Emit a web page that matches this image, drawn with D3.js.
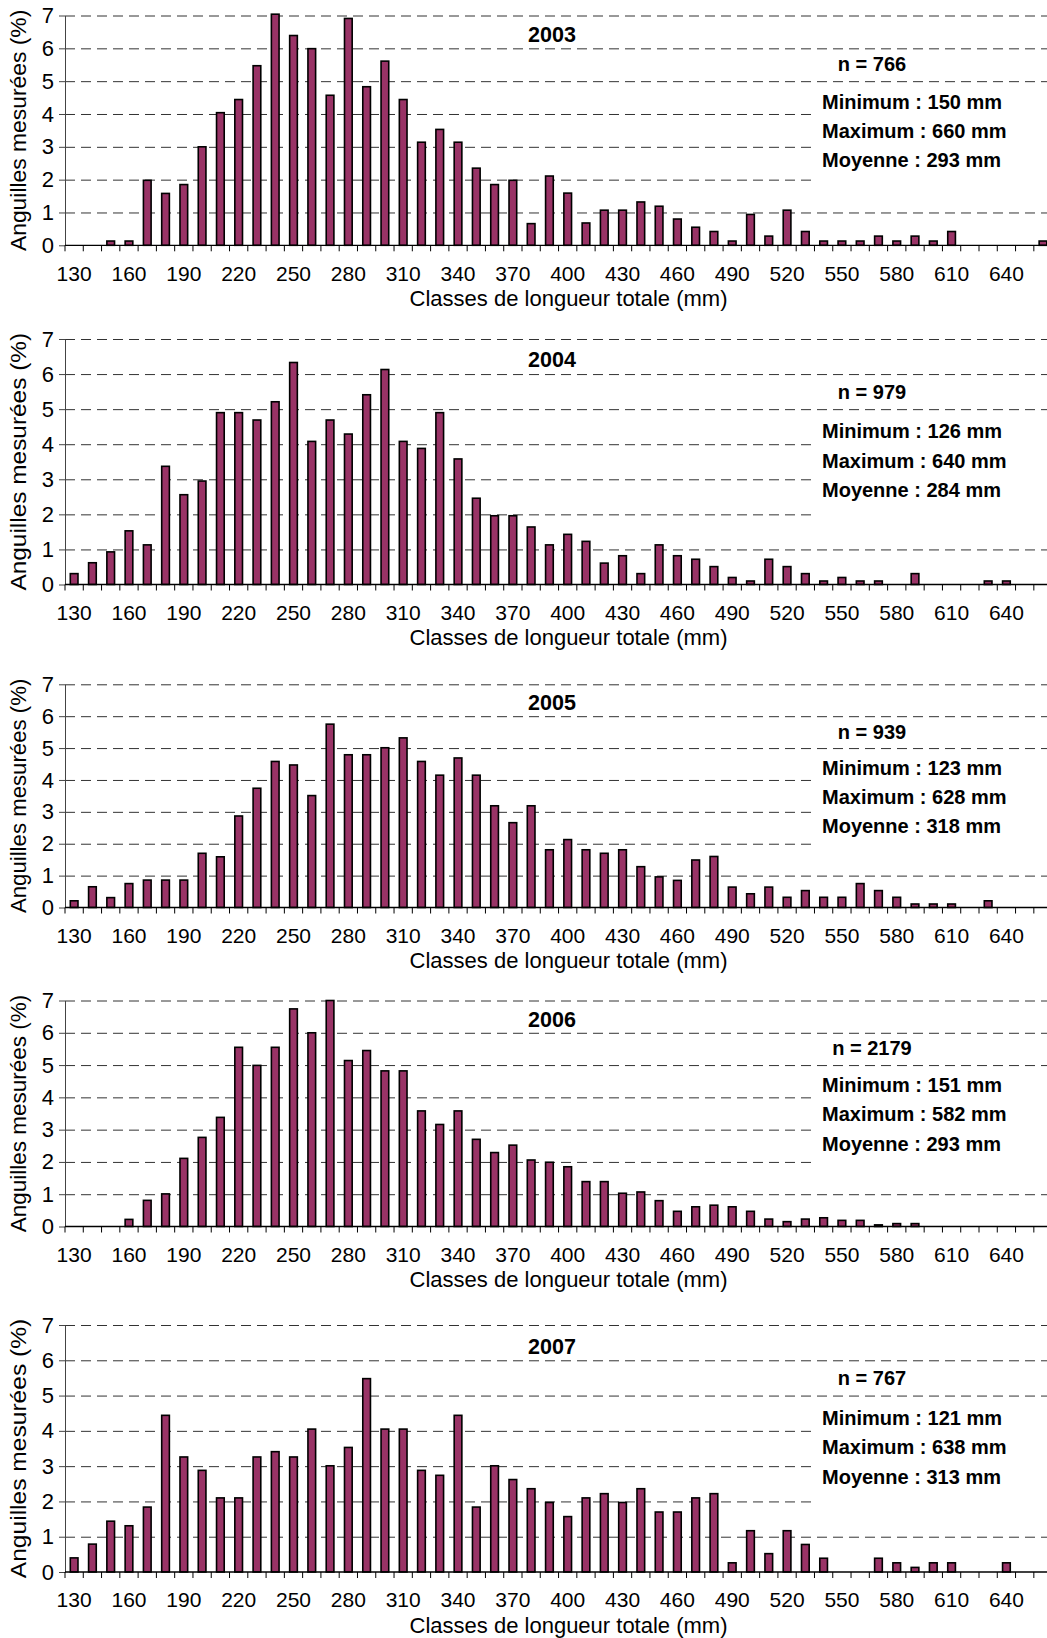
<!DOCTYPE html>
<html><head><meta charset="utf-8">
<script src="https://cdn.jsdelivr.net/npm/d3@7/dist/d3.min.js"></script>
<style>html,body{margin:0;padding:0;background:#fff;} svg{display:block;}</style>
</head><body>
<script>
const categories = [130,140,150,160,170,180,190,200,210,220,230,240,250,260,270,280,290,300,310,320,330,340,350,360,370,380,390,400,410,420,430,440,450,460,470,480,490,500,510,520,530,540,550,560,570,580,590,600,610,620,630,640,650,660];
const tickLabels = [130,160,190,220,250,280,310,340,370,400,430,460,490,520,550,580,610,640];
const yTicks = [0,1,2,3,4,5,6,7];
const years = ["2003","2004","2005","2006","2007"];

const values2003 = [0,0,0.13,0.13,1.98,1.58,1.85,3.0,4.04,4.44,5.47,7.04,6.39,5.99,4.57,6.91,4.83,5.61,4.44,3.14,3.53,3.14,2.35,1.85,1.98,0.66,2.11,1.59,0.68,1.07,1.07,1.32,1.19,0.80,0.55,0.42,0.13,0.94,0.28,1.07,0.42,0.13,0.13,0.13,0.28,0.13,0.28,0.13,0.42,0,0,0,0,0.13];
const values2004 = [0.31,0.62,0.93,1.53,1.13,3.37,2.56,2.95,4.90,4.90,4.69,5.21,6.33,4.08,4.69,4.29,5.41,6.13,4.08,3.88,4.90,3.58,2.46,1.96,1.96,1.64,1.13,1.43,1.23,0.61,0.82,0.31,1.13,0.82,0.72,0.51,0.20,0.10,0.72,0.51,0.31,0.10,0.20,0.10,0.10,0,0.31,0,0,0,0.10,0.10,0,0];
const values2005 = [0.21,0.65,0.31,0.75,0.86,0.86,0.86,1.70,1.59,2.87,3.74,4.58,4.47,3.51,5.75,4.79,4.79,5.01,5.32,4.58,4.15,4.69,4.15,3.19,2.66,3.19,1.81,2.13,1.81,1.70,1.81,1.28,0.96,0.85,1.49,1.60,0.64,0.43,0.64,0.32,0.53,0.32,0.32,0.75,0.53,0.32,0.11,0.11,0.11,0,0.21,0,0,0];
const values2006 = [0,0,0,0.22,0.81,1.01,2.11,2.76,3.38,5.55,4.99,5.55,6.74,6.00,7.00,5.14,5.45,4.82,4.82,3.58,3.16,3.58,2.70,2.29,2.52,2.06,1.99,1.85,1.39,1.39,1.03,1.07,0.80,0.47,0.61,0.66,0.61,0.47,0.23,0.15,0.23,0.27,0.19,0.19,0.05,0.09,0.09,0,0,0,0,0,0,0];
const values2007 = [0.40,0.79,1.44,1.31,1.84,4.44,3.26,2.88,2.10,2.10,3.26,3.41,3.26,4.05,3.01,3.53,5.48,4.05,4.05,2.88,2.74,4.44,1.84,3.01,2.62,2.36,1.97,1.57,2.10,2.22,1.97,2.36,1.70,1.70,2.10,2.22,0.26,1.17,0.52,1.17,0.78,0.39,0,0,0.39,0.26,0.13,0.26,0.26,0,0,0.26,0,0];

const nValues = [766, 979, 939, 2179, 767];
const minValues = [150, 126, 123, 151, 121];
const maxValues = [660, 640, 628, 582, 638];
const meanValues = [293, 284, 318, 293, 313];

const seriesList = [values2003, values2004, values2005, values2006, values2007];

// layout
const W = 1047, H = 1638;
const panelTops = [15.5, 339, 684.3, 1000.5, 1325];
const panelBottoms = [245.3, 584.5, 907.5, 1226.5, 1572];
const plotLeft = 65, step = 18.28;
const plotRight = plotLeft + step * categories.length;
const FONT = "'Liberation Sans', Arial, Helvetica, sans-serif";
const BAR = "#993366";

const svg = d3.select("body").append("svg")
  .attr("width", W).attr("height", H)
  .style("font-family", FONT);

years.forEach((yr, i) => {
  const top = panelTops[i], bottom = panelBottoms[i], h = bottom - top;
  const data = categories.map((c, k) => ({c, v: seriesList[i][k]}));
  const x = d3.scaleBand().domain(categories).range([plotLeft, plotRight]).paddingInner(0.58).paddingOuter(0.29);
  const y = d3.scaleLinear().domain([0, 7]).range([bottom, top]);
  const g = svg.append("g");

  // gridlines
  g.append("g").selectAll("line").data(yTicks.filter(t => t > 0)).join("line")
    .attr("x1", plotLeft).attr("x2", W)
    .attr("y1", d => y(d) + 0.5).attr("y2", d => y(d) + 0.5)
    .attr("stroke", "#333").attr("stroke-width", 1)
    .attr("stroke-dasharray", "10,6");

  // white box behind stats
  const boxLeft = 813;
  g.append("rect").attr("x", boxLeft).attr("y", y(4.75))
    .attr("width", W - boxLeft).attr("height", y(1.5) - y(4.75))
    .attr("fill", "#fff");

  // bars
  g.append("g").selectAll("rect").data(data.filter(d => d.v > 0)).join("rect")
    .attr("x", d => x(d.c)).attr("width", x.bandwidth())
    .attr("y", d => y(d.v)).attr("height", d => y(0) - y(d.v))
    .attr("fill", BAR).attr("stroke", "#000").attr("stroke-width", 1.6);

  // y axis
  const ya = g.append("g").attr("transform", `translate(${plotLeft},0)`)
    .call(d3.axisLeft(y).tickValues(yTicks).tickFormat(d3.format("d")).tickSize(6).tickSizeOuter(0).tickPadding(5));
  ya.select(".domain").attr("stroke", "#444");
  ya.selectAll(".tick line").attr("stroke", "#444");
  ya.selectAll("text").attr("font-size", 22).attr("fill", "#000").style("font-family", FONT);

  // x axis baseline and ticks at band boundaries
  g.append("line").attr("x1", plotLeft).attr("x2", W).attr("y1", y(0)).attr("y2", y(0))
    .attr("stroke", "#000").attr("stroke-width", 1.3);
  const bounds = categories.map(c => x(c) + x.bandwidth() / 2 - x.step() / 2);
  g.append("g").selectAll("line").data(bounds).join("line")
    .attr("x1", d => d).attr("x2", d => d).attr("y1", y(0)).attr("y2", y(0) + 6)
    .attr("stroke", "#000").attr("stroke-width", 1);

  const xa = g.append("g").attr("transform", `translate(0,${y(0)})`)
    .call(d3.axisBottom(x).tickValues(tickLabels).tickSize(0).tickPadding(20.5));
  xa.select(".domain").remove();
  xa.selectAll("text").attr("font-size", 21).attr("fill", "#000").style("font-family", FONT);

  // axis titles
  g.append("text").attr("x", (plotLeft + plotRight) / 2 + 10).attr("y", y(0) + 60.5)
    .attr("text-anchor", "middle").attr("font-size", 22).text("Classes de longueur totale (mm)");
  g.append("text").attr("transform", `translate(26,${(top + bottom) / 2}) rotate(-90)`)
    .attr("text-anchor", "middle").attr("font-size", 22)
    .attr("textLength", h * 1.05).attr("lengthAdjust", "spacingAndGlyphs")
    .text("Anguilles mesurées (%)");

  // year label
  g.append("text").attr("x", 552).attr("y", top + 0.116 * h)
    .attr("text-anchor", "middle").attr("font-weight", "bold").attr("font-size", 21.5).text(yr);

  // stats
  const statLeft = 822;
  const minY = top + 0.405 * h;
  g.append("text").attr("x", 872).attr("y", top + 0.243 * h)
    .attr("text-anchor", "middle").attr("font-weight", "bold").attr("font-size", 20)
    .text(`n = ${nValues[i]}`);
  [[`Minimum : ${minValues[i]} mm`, 0], [`Maximum : ${maxValues[i]} mm`, 1], [`Moyenne : ${meanValues[i]} mm`, 2]]
    .forEach(([t, k]) => {
      g.append("text").attr("x", statLeft).attr("y", minY + k * 29.3)
        .attr("font-weight", "bold").attr("font-size", 20).text(t);
    });
});
</script>
</body></html>
